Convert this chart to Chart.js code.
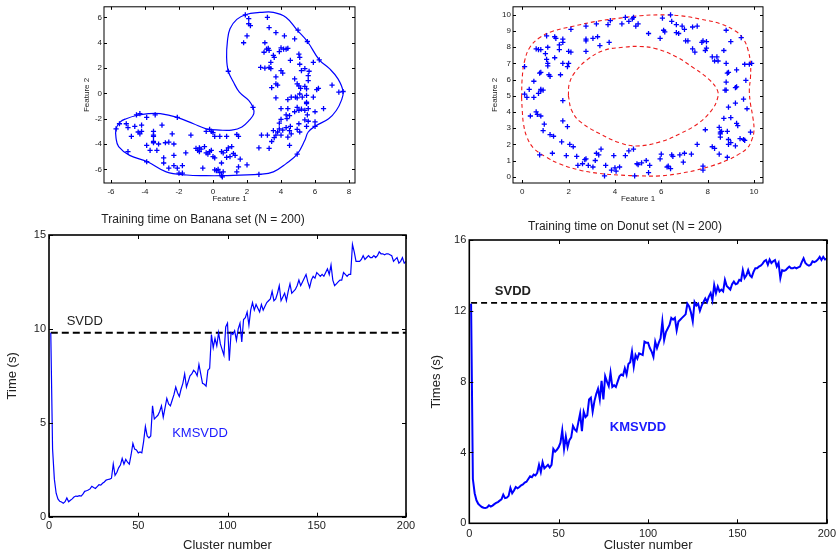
<!DOCTYPE html>
<html>
<head>
<meta charset="utf-8">
<script src="https://cdn.jsdelivr.net/npm/chart.js@4.4.1/dist/chart.umd.min.js"></script>
<style>
  html, body { margin: 0; padding: 0; background: #fff; }
  body { width: 840px; height: 556px; position: relative; overflow: hidden; }
  canvas { position: absolute; }
</style>
</head>
<body>
<canvas id="c1" width="420" height="205" style="left:0;top:0"></canvas>
<canvas id="c2" width="420" height="205" style="left:420px;top:0"></canvas>
<canvas id="c3" width="420" height="351" style="left:0;top:205px"></canvas>
<canvas id="c4" width="420" height="351" style="left:420px;top:205px"></canvas>
<script>
// ---------------- DATA ----------------
const bananaXTicks = [-6, -4, -2, 0, 2, 4, 6, 8];
const bananaYTicks = [-6, -4, -2, 0, 2, 4, 6];
const donutXTicks = [0, 2, 4, 6, 8, 10];
const donutYTicks = [0, 1, 2, 3, 4, 5, 6, 7, 8, 9, 10];
const clusterTicks = [0, 50, 100, 150, 200];
const bananaTimeTicks = [0, 5, 10, 15];
const donutTimeTicks = [0, 4, 8, 12, 16];

const bananaPoints = [
[-4.5,-1.7],[-4.3,-1.6],[-3.9,-1.9],[-3.4,-1.7],[-2.1,-1.9],[-5.5,-2.4],[-5.1,-2.4],[-5.0,-2.7],[-4.6,-2.6],[-4.2,-2.5],
[-4.2,-3.0],[-4.3,-3.2],[-4.4,-3.05],[-3.5,-3.0],[-3.0,-2.5],[-4.8,-3.4],[-3.5,-3.4],[-3.5,-3.3],[-2.4,-3.2],[-1.3,-3.3],
[-3.9,-4.1],[-3.5,-3.9],[-3.5,-3.8],[-3.2,-4.0],[-2.8,-3.9],[-2.6,-3.85],[-2.3,-4.0],[-3.7,-4.5],[-3.3,-4.5],[-2.3,-4.9],
[-1.6,-4.7],[-2.9,-5.1],[-2.9,-5.5],[-2.3,-5.7],[-1.8,-5.7],[-5.0,-4.6],[-3.9,-5.4],[-2.6,-5.9],[-2.1,-5.9],[-2.0,-6.3],
[-1.8,-6.3],[-5.7,-2.8],
[-1.0,-4.35],[-0.9,-4.5],[-0.8,-4.3],[-0.8,-4.6],[-0.7,-4.4],[-0.6,-5.9],[-0.5,-4.2],[-0.4,-4.7],[-0.3,-4.8],[-0.2,-4.6],
[-0.1,-4.5],[0.0,-5.0],[0.1,-5.1],[-0.4,-3.0],[-0.2,-2.85],[-0.1,-3.0],[0.0,-3.1],[0.1,-3.4],[0.4,-3.4],[0.1,-6.05],
[0.2,-6.1],[0.3,-6.0],[0.4,-6.25],[0.5,-6.5],[0.6,-6.2],[0.5,-5.5],[0.5,-4.6],[0.6,-4.7],[0.8,-4.5],[0.8,-5.05],
[0.9,-4.3],[1.0,-5.0],[1.1,-4.2],[1.2,-4.75],[1.3,-4.9],[0.8,-3.4],[1.4,-3.25],[1.5,-3.4],[1.6,-5.2],[1.5,-5.8],
[1.4,-6.2],[2.0,-5.65],
[1.9,6.2],[2.1,5.9],[2.1,5.5],[2.2,5.35],[2.0,4.55],[1.8,4.0],[0.9,1.75],[2.35,-1.1],[3.2,6.0],[3.3,5.2],
[3.7,4.8],[4.2,4.55],[4.8,4.3],[3.05,4.0],[3.0,3.25],[3.15,3.5],[3.25,3.55],[3.3,3.4],[3.55,3.0],[3.4,2.45],
[3.3,2.05],[3.6,2.85],[3.9,3.3],[4.0,3.6],[4.15,3.5],[4.3,3.5],[4.4,3.55],[4.55,2.6],[5.05,3.1],[5.1,2.85],
[5.1,2.3],[5.2,1.8],[5.4,1.95],[5.65,1.75],[5.6,1.4],[5.6,1.0],[2.8,2.05],[3.05,2.0],[3.4,1.95],[4.0,1.8],
[4.1,1.6],[3.7,1.3],[3.8,0.65],[3.45,0.45],[3.7,0.75],[4.8,1.15],[4.95,0.75],[5.05,0.6],[5.15,0.4],[5.4,0.55],
[5.5,0.35],[5.9,2.45],[6.1,0.3],[6.2,0.4],[5.9,-0.3],[4.4,-0.5],[4.6,-0.3],[4.85,-0.3],[4.95,-0.35],[5.1,-0.05],
[5.25,-0.3],[5.5,-0.7],[5.5,-0.15],[3.7,-0.35],[4.0,-1.2],[4.4,-1.2],[4.3,-1.7],[4.95,-1.1],[5.05,-1.35],[5.2,-1.25],
[5.4,-1.35],[5.5,-0.8],[5.6,-1.2],[5.55,-1.7],[4.8,-1.45],[6.0,-1.45],[6.5,-1.2],[7.0,0.65],[7.4,0.1],[4.0,-2.05],
[3.9,-2.35],[4.35,-2.0],[4.5,-1.75],[5.4,-2.1],[5.6,-2.2],[5.05,-2.4],[5.5,-2.6],[6.0,-2.25],[3.9,-2.8],[4.1,-2.9],
[3.8,-3.05],[3.7,-3.3],[3.55,-2.95],[3.6,-3.5],[3.45,-3.8],[3.3,-4.35],[4.3,-2.7],[4.55,-2.6],[4.5,-2.95],[4.6,-3.2],
[4.95,-2.85],[5.1,-3.05],[4.4,-3.45],[4.5,-4.1],[4.0,-3.3],[2.85,-3.3],[3.2,-3.3],[2.7,-4.3],[4.95,-4.8],[2.7,-6.4],
[6.0,-2.6],[5.0,5.0],[5.55,4.1],[6.25,2.65],[7.65,0.15],[0.55,-6.6]
];

const bananaBoundary = [
[2.75,6.4],[3.55,6.4],[4.3,6.0],[4.95,5.0],[5.55,4.1],[6.25,2.65],[6.85,1.95],[7.35,1.15],[7.65,0.15],[7.55,-0.55],
[7.25,-1.35],[6.8,-2.0],[6.0,-2.6],[5.6,-3.05],[5.4,-3.7],[4.95,-4.8],[4.3,-5.55],[3.55,-6.2],[2.7,-6.4],[1.6,-6.45],
[0.55,-6.5],[-0.4,-6.5],[-1.55,-6.45],[-2.75,-6.2],[-3.85,-5.4],[-4.9,-4.9],[-5.55,-4.2],[-5.7,-3.55],[-5.7,-2.8],[-5.45,-2.25],
[-5.1,-2.0],[-4.5,-1.75],[-3.8,-1.6],[-3.1,-1.6],[-2.1,-1.9],[-1.15,-2.4],[-0.4,-2.8],[0.4,-2.9],[1.1,-2.9],[1.7,-2.65],
[2.15,-2.1],[2.4,-1.6],[2.35,-1.1],[2.1,-0.55],[1.55,0.1],[1.2,0.9],[0.9,1.75],[0.8,2.85],[0.85,4.15],[1.0,5.1],
[1.4,5.85],[2.0,6.25],[2.75,6.4]
];

const donutPoints = [
[0.1,6.8],[0.1,5.1],[0.2,4.9],[0.3,5.4],[0.5,5.9],[0.5,4.9],[0.35,3.75],[0.6,4.0],[0.65,3.85],[0.8,3.75],
[0.7,5.15],[0.8,5.4],[0.8,5.3],[0.9,5.35],[0.75,6.4],[0.8,6.45],[0.95,3.25],[0.9,2.85],[0.75,1.35],[0.6,7.9],
[0.7,7.85],[0.8,7.85],[1.0,7.6],[1.05,8.7],[1.1,8.0],[1.05,7.25],[1.1,7.0],[1.1,6.85],[1.15,6.3],[1.2,6.2],
[1.4,8.65],[1.45,8.55],[1.6,8.15],[1.6,7.85],[1.4,7.35],[1.65,6.3],[1.75,7.0],[1.75,8.5],[1.75,8.3],[1.95,6.8],
[2.0,7.0],[2.0,7.75],[2.1,7.7],[2.1,9.1],[1.75,4.7],[1.75,3.45],[1.95,3.1],[2.05,2.0],[2.2,1.85],[1.7,2.15],
[1.35,2.5],[1.2,2.6],[1.3,1.45],[1.9,1.3],[2.35,1.25],[2.4,0.7],[2.6,0.8],[2.7,1.05],[2.75,1.1],[2.85,0.7],
[3.05,0.6],[3.15,1.0],[3.2,1.45],[3.3,1.35],[3.4,1.7],[3.55,0.05],[3.6,0.7],[3.85,0.4],[3.95,1.3],[4.0,0.55],
[4.05,0.35],[4.2,0.6],[4.45,1.3],[4.6,1.6],[4.8,1.7],[4.85,0.05],[4.95,0.8],[5.0,0.75],[5.15,0.85],[5.35,1.0],
[5.45,0.25],[5.5,0.7],[5.95,1.1],[6.0,1.4],[6.25,0.6],[6.3,0.65],[6.4,0.5],[6.45,1.35],[6.5,1.25],[6.8,1.35],
[6.95,0.9],[7.0,1.45],[7.3,1.4],[7.55,2.0],[7.8,0.65],[7.8,0.4],[7.9,2.9],[8.2,1.85],[8.3,1.75],[8.5,1.4],
[8.5,3.05],[8.55,2.75],[8.55,2.65],[8.6,2.8],[8.55,2.45],[8.7,3.6],[8.85,1.2],[8.85,2.8],[8.9,2.3],[8.9,2.0],
[9.0,3.65],[9.0,2.1],[9.2,1.9],[9.25,3.3],[9.3,3.15],[9.2,4.55],[9.4,2.35],[9.55,2.3],[9.6,2.25],[9.7,4.2],
[9.55,4.8],[9.85,2.75],[8.9,4.3],[8.8,5.35],[8.75,5.35],[8.8,5.85],[8.9,6.45],[8.85,6.4],[9.2,5.5],[9.25,5.55],
[9.65,5.95],[9.25,6.6],[9.6,6.95],[9.8,6.95],[9.9,7.0],[9.45,8.6],[8.8,7.0],[8.7,7.8],[8.8,9.05],[9.0,8.35],
[8.4,7.4],[8.3,7.15],[8.45,7.15],[8.2,7.4],[7.9,7.8],[7.95,7.95],[7.8,8.4],[7.95,8.35],[7.75,8.3],[7.45,7.7],
[7.35,7.9],[7.15,8.4],[7.05,8.4],[7.0,9.1],[6.75,8.85],[6.65,8.9],[6.9,9.3],[7.55,9.3],[7.35,9.25],[6.65,9.4],
[6.45,9.6],[6.4,10.0],[6.1,9.05],[6.05,9.8],[6.15,8.95],[5.95,8.55],[5.45,8.85],[4.9,9.3],[5.0,9.45],[4.8,9.85],
[4.75,9.75],[4.6,9.6],[4.45,9.85],[4.3,9.45],[3.8,9.65],[3.7,9.4],[3.75,8.3],[3.35,8.1],[3.2,9.45],[3.25,8.65],
[3.05,8.55],[2.75,9.3],[2.75,8.5],[2.75,7.75],[2.75,8.4]
];

const donutOuter = [
[-0.03,4.9],[0.0,6.15],[0.1,7.15],[0.33,8.0],[0.76,8.6],[1.34,9.0],[2.2,9.3],[3.2,9.6],[4.2,9.8],[5.1,9.95],
[5.95,10.0],[6.8,9.95],[7.65,9.75],[8.55,9.45],[9.2,9.0],[9.55,8.5],[9.75,7.8],[9.85,6.95],[9.85,6.15],[9.8,5.35],
[9.85,4.5],[9.95,3.7],[10.0,2.85],[9.9,2.25],[9.7,1.75],[9.3,1.35],[8.9,1.05],[8.25,0.7],[7.5,0.4],[6.8,0.2],
[5.95,0.05],[5.1,0.05],[4.2,0.1],[3.35,0.2],[2.5,0.4],[1.6,0.8],[1.05,1.2],[0.5,1.75],[0.2,2.45],[0.05,3.3],
[0.0,4.1],[-0.03,4.9]
];

const donutInner = [
[1.99,5.0],[2.03,5.75],[2.27,6.45],[2.78,7.2],[3.5,7.8],[4.36,8.0],[5.08,8.05],[5.8,7.9],[6.66,7.4],[7.37,6.75],
[8.03,6.05],[8.42,5.35],[8.42,4.8],[8.17,4.1],[7.6,3.3],[6.8,2.65],[5.95,2.15],[4.94,1.9],[4.2,2.1],[3.35,2.65],
[2.5,3.4],[2.13,4.1],[1.99,5.0]
];

// KMSVDD training time on Banana set, cluster number 1..200
const bananaTime = [
9.8,3.6,2.0,1.25,0.95,0.82,0.78,0.72,0.8,1.0,
0.8,0.88,0.95,1.05,1.1,1.08,1.12,1.1,1.2,1.35,
1.38,1.42,1.48,1.62,1.55,1.5,1.6,1.7,1.68,1.78,
1.85,1.95,1.98,2.0,2.05,2.8,2.2,2.35,2.6,2.75,
3.1,2.8,3.05,2.9,2.8,3.3,3.9,3.6,3.55,3.4,
3.45,3.4,4.0,4.8,4.3,4.2,4.3,5.9,5.2,5.3,
5.4,5.6,5.9,5.3,5.8,6.3,6.0,5.9,6.2,6.5,
6.9,6.6,6.4,6.8,7.1,7.6,6.9,7.2,7.5,7.6,
7.8,7.7,7.5,8.1,7.6,7.1,7.05,6.95,7.8,7.9,
9.7,9.0,9.5,9.1,9.8,9.2,8.9,8.6,10.1,10.3,
8.3,9.8,9.7,9.9,9.4,10.0,10.3,9.3,10.5,10.6,
10.9,10.2,11.0,11.4,11.0,11.3,11.1,10.9,11.3,11.0,
11.2,11.4,11.5,11.6,12.0,11.5,11.6,11.9,12.3,11.5,
11.7,11.9,11.5,12.0,12.4,11.9,12.0,12.1,12.3,12.6,
12.3,12.5,12.7,12.9,12.5,12.2,12.6,12.8,12.7,13.0,
12.9,12.8,12.9,12.8,13.0,13.2,12.9,13.4,12.6,12.3,
12.4,12.5,12.6,12.6,13.0,12.9,12.8,12.9,12.9,14.5,
14.1,13.6,13.6,13.6,13.7,13.9,13.7,13.8,13.9,13.8,
13.8,13.9,13.8,13.9,14.1,14.0,14.0,13.95,14.0,14.0,
13.95,13.9,13.6,13.7,13.8,13.5,13.6,13.8,13.5,13.6
];

// KMSVDD training time on Donut set, cluster number 1..200
const donutTime = [
12.4,2.5,1.7,1.3,1.1,1.0,0.92,0.88,0.86,0.9,
1.02,0.95,1.0,1.08,1.15,1.2,1.28,1.35,1.62,1.42,
1.45,1.55,2.0,1.7,1.85,2.05,1.98,2.05,2.15,2.2,
2.3,2.35,2.5,2.65,2.6,2.75,2.7,2.85,3.3,2.9,
3.45,3.1,3.2,3.3,3.15,3.3,4.2,4.05,4.15,4.3,
4.55,5.25,4.2,4.9,4.3,4.7,4.85,5.5,5.3,5.2,
5.7,6.2,5.2,6.3,6.0,6.1,7.0,7.1,6.3,6.9,
7.3,7.6,7.0,8.05,7.0,8.3,8.0,7.75,8.5,7.7,
7.8,7.7,8.0,8.3,8.4,8.35,8.75,8.4,9.0,9.1,
9.7,8.85,9.5,9.3,9.6,9.55,9.5,10.26,10.2,10.2,
9.9,9.7,9.4,10.26,9.9,10.2,10.45,11.4,10.35,10.8,
11.0,11.2,11.6,11.5,11.6,10.9,11.4,11.5,11.6,11.7,
11.8,12.4,12.25,11.9,11.4,12.5,12.3,12.4,12.0,12.3,
12.5,12.7,12.5,12.8,13.0,12.6,13.46,13.0,13.37,13.1,
13.2,13.1,13.75,13.4,13.3,13.2,13.5,13.65,13.5,13.55,
13.75,13.7,14.3,13.85,14.0,14.3,14.0,13.9,14.2,14.4,
14.4,14.5,14.55,14.65,14.8,14.87,14.6,14.9,14.7,14.8,
14.87,14.5,14.7,13.85,14.3,14.25,14.3,14.4,14.5,14.4,
14.4,14.45,14.4,14.45,14.5,14.75,14.97,14.7,14.6,14.55,
14.6,14.8,14.75,14.8,14.9,15.05,14.87,15.05,14.9,14.95
];

const clusters = bananaTime.map((_, i) => i + 1);
const bananaSvdd = 9.8;
const donutSvdd = 12.45;
const bananaNotes = [{text: 'SVDD', x: 9.9, y: 10.4, kind: 'svdd'}, {text: 'KMSVDD', x: 69, y: 4.45, kind: 'km'}];
const donutNotes = [{text: 'SVDD', x: 14.3, y: 13.1, kind: 'svdd'}, {text: 'KMSVDD', x: 78.6, y: 5.4, kind: 'km'}];

// ---------------- RENDERING ----------------
const FONT = '"Liberation Sans", Arial, Helvetica, sans-serif';
Chart.defaults.font.family = FONT;
Chart.defaults.color = '#222';

const boxPlugin = {
  id: 'matlabBox',
  afterDatasetsDraw(chart, args, opts) {
    const {ctx, chartArea: a, scales} = chart;
    ctx.save();
    ctx.strokeStyle = '#000';
    ctx.lineWidth = opts.tickWidth || 1;
    ctx.beginPath();
    scales.x.ticks.forEach(t => {
      const px = Math.round(scales.x.getPixelForValue(t.value)) + 0.5;
      ctx.moveTo(px, a.bottom); ctx.lineTo(px, a.bottom - opts.tl);
      ctx.moveTo(px, a.top); ctx.lineTo(px, a.top + opts.tl);
    });
    scales.y.ticks.forEach(t => {
      const py = Math.round(scales.y.getPixelForValue(t.value)) + 0.5;
      ctx.moveTo(a.left, py); ctx.lineTo(a.left + opts.tl, py);
      ctx.moveTo(a.right, py); ctx.lineTo(a.right - opts.tl, py);
    });
    ctx.stroke();
    ctx.lineWidth = opts.lw;
    ctx.strokeRect(a.left, a.top, a.width, a.height);
    (opts.notes || []).forEach(n => {
      const st = opts.noteStyles[n.kind];
      ctx.font = st.font;
      ctx.fillStyle = st.color;
      ctx.textBaseline = 'middle';
      ctx.textAlign = 'left';
      ctx.fillText(n.text, scales.x.getPixelForValue(n.x), scales.y.getPixelForValue(n.y));
    });
    ctx.restore();
  }
};

function setTicks(arr) {
  return function (scale) { scale.ticks = arr.map(v => ({value: v})); };
}
function fixW(w) { return function (s) { s.width = w; }; }
function fixH(h) { return function (s) { s.height = h; }; }
const toXY = arr => arr.map(p => ({x: p[0], y: p[1]}));

function scatterChart(id, cfg) {
  return new Chart(document.getElementById(id), {
    type: 'scatter',
    data: {datasets: cfg.datasets},
    options: {
      responsive: false, animation: false, devicePixelRatio: 1,
      layout: {padding: cfg.padding},
      plugins: {legend: {display: false}, tooltip: {enabled: false},
        matlabBox: {lw: 1, tl: 3}},
      scales: {
        x: {type: 'linear', min: cfg.xMin, max: cfg.xMax,
          afterBuildTicks: setTicks(cfg.xTicks), afterFit: fixH(22),
          grid: {display: false, drawTicks: false}, border: {display: false},
          ticks: {font: {size: 8}, padding: 4, color: '#222', maxRotation: 0},
          title: {display: true, text: 'Feature 1', font: {size: 8}, color: '#222', padding: {top: 0, bottom: 1}}},
        y: {type: 'linear', min: cfg.yMin, max: cfg.yMax,
          afterBuildTicks: setTicks(cfg.yTicks), afterFit: fixW(cfg.yW),
          grid: {display: false, drawTicks: false}, border: {display: false},
          ticks: {font: {size: 8}, padding: 2, color: '#222'},
          title: {display: true, text: 'Feature 2', font: {size: 8}, color: '#222', padding: {top: 4, bottom: 0}}}
      }
    },
    plugins: [boxPlugin]
  });
}

scatterChart('c1', {
  padding: {left: 78, right: 65, top: 6, bottom: 0},
  yW: 26, xMin: -6.41, xMax: 8.35, yMin: -7.08, yMax: 6.84,
  xTicks: bananaXTicks, yTicks: bananaYTicks,
  datasets: [
    {data: toXY(bananaPoints), pointStyle: 'cross', pointRadius: 2.6, pointBorderWidth: 1.3,
     borderColor: '#0000ff', backgroundColor: '#0000ff', showLine: false},
    {data: toXY(bananaBoundary), showLine: true, pointRadius: 0, borderColor: '#0000ff',
     borderWidth: 1.2, tension: 0.4, fill: false}
  ]
});

scatterChart('c2', {
  padding: {left: 66, right: 77, top: 6, bottom: 0},
  yW: 27, xMin: -0.4, xMax: 10.39, yMin: -0.39, yMax: 10.5,
  xTicks: donutXTicks, yTicks: donutYTicks,
  datasets: [
    {data: toXY(donutPoints), pointStyle: 'cross', pointRadius: 2.6, pointBorderWidth: 1.3,
     borderColor: '#0000ff', backgroundColor: '#0000ff', showLine: false},
    {data: toXY(donutOuter), showLine: true, pointRadius: 0, borderColor: '#ee1c1c',
     borderWidth: 1.1, borderDash: [4, 3], tension: 0.4, fill: false},
    {data: toXY(donutInner), showLine: true, pointRadius: 0, borderColor: '#ee1c1c',
     borderWidth: 1.1, borderDash: [4, 3], tension: 0.4, fill: false}
  ]
});

function timeChart(id, cfg) {
  return new Chart(document.getElementById(id), {
    type: 'line',
    data: {datasets: [
      {data: cfg.values.map((v, i) => ({x: clusters[i], y: v})), borderColor: '#0000ff',
       borderWidth: cfg.lineW, pointRadius: 0, tension: 0, fill: false},
      {data: [{x: clusters[0], y: cfg.svdd}, {x: clusters[clusters.length - 1], y: cfg.svdd}],
       borderColor: '#000', borderWidth: cfg.dashW, borderDash: cfg.dash, pointRadius: 0, fill: false}
    ]},
    options: {
      responsive: false, animation: false, devicePixelRatio: 1,
      layout: {padding: {left: 0, right: cfg.padRight, top: 0, bottom: 0}},
      plugins: {
        legend: {display: false}, tooltip: {enabled: false},
        title: {display: true, text: cfg.title, font: {size: 12, weight: 'normal'}, color: '#222',
          padding: cfg.titlePad},
        matlabBox: {lw: 1.6, tl: 4, tickWidth: 1, notes: cfg.notes, noteStyles: cfg.noteStyles}
      },
      scales: {
        x: {type: 'linear', min: 0, max: 200,
          afterBuildTicks: setTicks(clusterTicks), afterFit: fixH(cfg.xH),
          grid: {display: false, drawTicks: false}, border: {display: false},
          ticks: {font: {size: 11}, padding: cfg.xTickPad, color: '#222', maxRotation: 0},
          title: {display: true, text: 'Cluster number', font: {size: 13}, color: '#222', padding: {top: 0, bottom: 2.5}}},
        y: {type: 'linear', min: 0, max: cfg.yMax,
          afterBuildTicks: setTicks(cfg.yTicks), afterFit: fixW(cfg.yW),
          grid: {display: false, drawTicks: false}, border: {display: false},
          ticks: {font: {size: 11}, padding: 3, color: '#222'},
          title: {display: true, text: cfg.yTitle, font: {size: 13}, color: '#222', padding: {top: cfg.yTitlePad, bottom: 0}}}
      }
    },
    plugins: [boxPlugin]
  });
}

timeChart('c3', {
  values: bananaTime, svdd: bananaSvdd, yMax: 15, yTicks: bananaTimeTicks,
  title: 'Training time on Banana set (N = 200)', titlePad: {top: 7.4, bottom: 8.2},
  padRight: 14, xH: 39.3, yW: 49, xTickPad: 3, yTitle: 'Time (s)', yTitlePad: 5,
  lineW: 1.2, dashW: 2, dash: [7, 4], notes: bananaNotes,
  noteStyles: {svdd: {font: '13px ' + FONT, color: '#222'}, km: {font: '13px ' + FONT, color: '#1a1aff'}}
});

timeChart('c4', {
  values: donutTime, svdd: donutSvdd, yMax: 16, yTicks: donutTimeTicks,
  title: 'Training time on Donut set (N = 200)', titlePad: {top: 14.5, bottom: 6.1},
  padRight: 10, xH: 32.7, yW: 49.3, xTickPad: 4, yTitle: 'Times (s)', yTitlePad: 9,
  lineW: 2, dashW: 1.6, dash: [6, 4], notes: donutNotes,
  noteStyles: {svdd: {font: 'bold 13px ' + FONT, color: '#222'}, km: {font: 'bold 13px ' + FONT, color: '#1a1aff'}}
});
</script>
</body>
</html>
